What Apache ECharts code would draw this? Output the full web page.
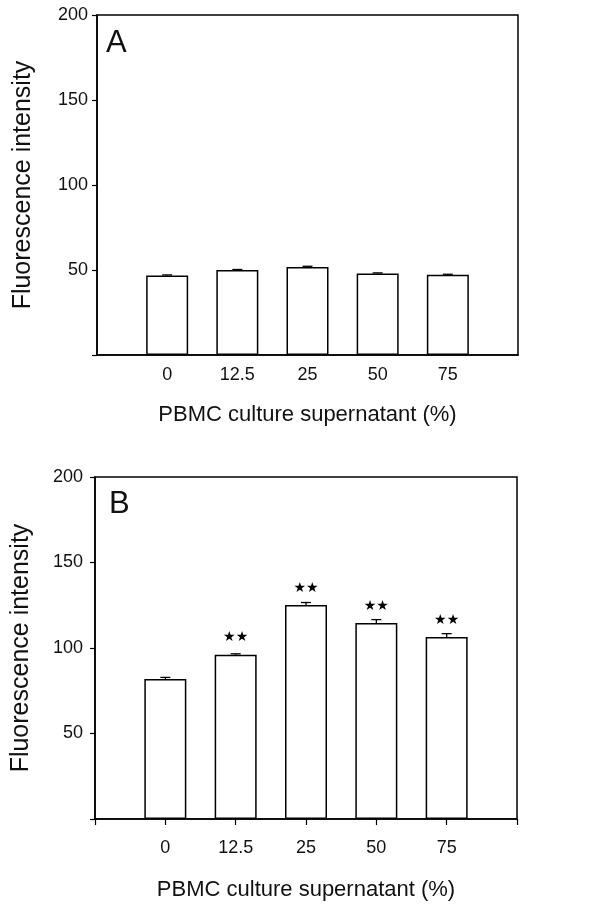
<!DOCTYPE html>
<html>
<head>
<meta charset="utf-8">
<script src="https://cdn.jsdelivr.net/npm/echarts@6/dist/echarts.min.js"></script>
<style>
  html, body { margin: 0; padding: 0; background: #fff; }
  #chart { width: 605px; height: 907px; }
</style>
</head>
<body>
<div id="chart"></div>
<script>
// concentrations of PBMC culture supernatant (%)
const categories = ['0', '12.5', '25', '50', '75'];
const yTicks = [50, 100, 150, 200];

// panel A
const valuesA = [46.7, 50.0, 51.8, 48.0, 47.2];
const errorsA = [0.4, 0.3, 0.4, 0.3, 0.3];

// panel B
const valuesB = [81.9, 96.1, 125.1, 114.6, 106.4];
const errorsB = [0.9, 0.5, 1.5, 2.0, 2.0];
const sigB = ['', '**', '**', '**', '**'];

// empty slot at each end of the axis, like in the figure
const axisCats = [''].concat(categories, ['']);
const pad = arr => [null].concat(arr, [null]);

const chart = echarts.init(document.getElementById('chart'));
const font = 'Liberation Sans, Arial, sans-serif';

function xAxisOf(idx, ticks, labelMargin, nameGap) {
  return {
    type: 'category',
    gridIndex: idx,
    data: axisCats,
    boundaryGap: false,
    axisLine: { lineStyle: { color: '#000', width: 1.5 } },
    axisTick: { show: ticks, length: 6, inside: false, lineStyle: { color: '#000', width: 1.2 } },
    axisLabel: { color: '#111', fontSize: 18, fontFamily: font, margin: labelMargin, interval: 0 },
    name: 'PBMC culture supernatant (%)',
    nameLocation: 'middle',
    nameGap: nameGap,
    nameTextStyle: { color: '#111', fontSize: 22, fontFamily: font }
  };
}

function yAxisOf(idx, labelMargin, nameGap) {
  return {
    type: 'value',
    gridIndex: idx,
    min: 0,
    max: 200,
    interval: 50,
    splitLine: { show: false },
    axisLine: { show: true, lineStyle: { color: '#000', width: 1.5 } },
    axisTick: { show: true, length: 5, lineStyle: { color: '#000', width: 1.2 } },
    axisLabel: {
      color: '#111', fontSize: 18, fontFamily: font, margin: labelMargin,
      formatter: v => (yTicks.indexOf(v) >= 0 ? String(v) : '')
    },
    name: 'Fluorescence intensity',
    nameLocation: 'middle',
    nameGap: nameGap,
    nameTextStyle: { color: '#111', fontSize: 25, fontFamily: font }
  };
}

function barSeries(idx, values, sig) {
  return {
    type: 'bar',
    xAxisIndex: idx,
    yAxisIndex: idx,
    data: pad(values),
    barWidth: 42,
    itemStyle: { color: '#fff', borderColor: '#000', borderWidth: 1.5 },
    label: {
      show: !!sig,
      position: 'top',
      distance: 10,
      color: '#000',
      fontSize: 14,
      fontFamily: 'DejaVu Sans',
      formatter: p => (sig ? (sig[p.dataIndex - 1] || '').replace(/\*/g, '\u2605') : '')
    },
    silent: true,
    z: 2
  };
}

function errSeries(idx, values, errors) {
  const data = values.map((v, i) => [i + 1, v, v + errors[i]]);
  return {
    type: 'custom',
    xAxisIndex: idx,
    yAxisIndex: idx,
    data: data,
    renderItem: function (params, api) {
      const x = api.value(0);
      const lo = api.coord([x, api.value(1)]);
      const hi = api.coord([x, api.value(2)]);
      const cap = 5;
      const style = { stroke: '#000', lineWidth: 1.3 };
      return {
        type: 'group',
        children: [
          { type: 'line', shape: { x1: lo[0], y1: lo[1], x2: hi[0], y2: hi[1] }, style: style },
          { type: 'line', shape: { x1: hi[0] - cap, y1: hi[1], x2: hi[0] + cap, y2: hi[1] }, style: style }
        ]
      };
    },
    silent: true,
    z: 3
  };
}

const gridBase = { show: true, borderColor: '#000', borderWidth: 1.5, backgroundColor: 'transparent', outerBoundsMode: 'none', containLabel: false };

const option = {
  backgroundColor: '#fff',
  animation: false,
  title: [
    { text: 'A', left: 106, top: 28, padding: 0, textStyle: { fontSize: 31, fontWeight: 'normal', color: '#111', fontFamily: font } },
    { text: 'B', left: 109, top: 489, padding: 0, textStyle: { fontSize: 31, fontWeight: 'normal', color: '#111', fontFamily: font } }
  ],
  grid: [
    Object.assign({ left: 97, top: 15, width: 421, height: 340 }, gridBase),
    Object.assign({ left: 95, top: 477, width: 422, height: 342 }, gridBase)
  ],
  xAxis: [xAxisOf(0, false, 11, 49), xAxisOf(1, true, 20, 60)],
  yAxis: [yAxisOf(0, 9, 61), yAxisOf(1, 12, 61)],
  series: [
    barSeries(0, valuesA, null),
    errSeries(0, valuesA, errorsA),
    barSeries(1, valuesB, sigB),
    errSeries(1, valuesB, errorsB)
  ]
};

chart.setOption(option);
</script>
</body>
</html>
